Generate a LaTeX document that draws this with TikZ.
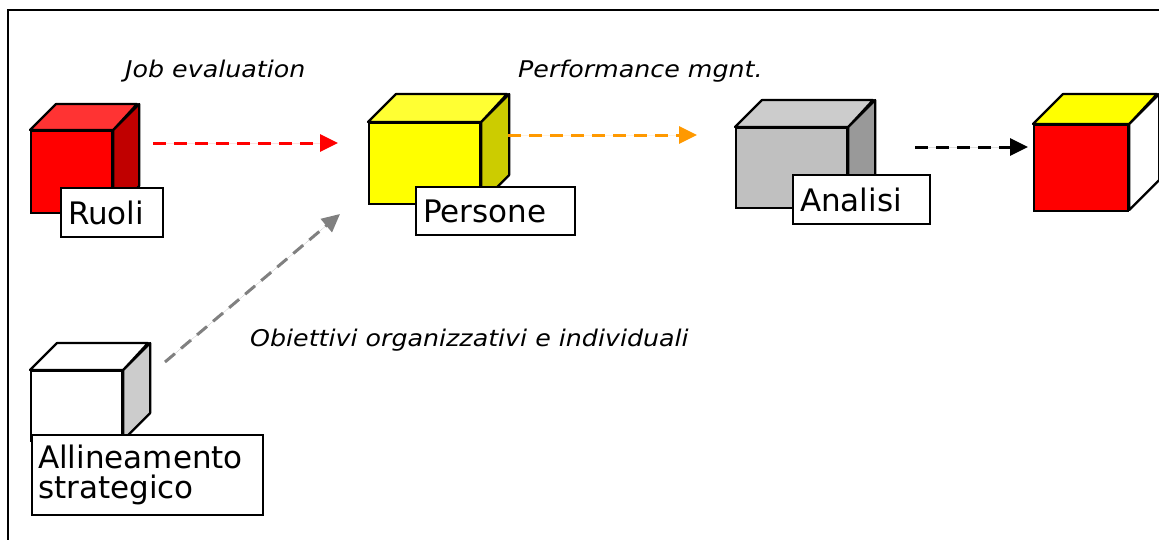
\documentclass[tikz,border=0pt]{standalone}
\usepackage{fontspec}
\setmainfont{DejaVu Sans}
\newfontfamily\itlab{DejaVu Sans}[FakeStretch=1.1]
\usetikzlibrary{arrows.meta}
\definecolor{cred}{HTML}{FF0000}
\definecolor{credtop}{HTML}{FF3333}
\definecolor{credside}{HTML}{C00000}
\definecolor{cyel}{HTML}{FFFF00}
\definecolor{cyeltop}{HTML}{FFFF33}
\definecolor{cyelside}{HTML}{CCCC00}
\definecolor{cgray}{HTML}{C0C0C0}
\definecolor{cgraytop}{HTML}{CCCCCC}
\definecolor{cgrayside}{HTML}{999999}
\definecolor{cwside}{HTML}{CCCCCC}
\definecolor{corange}{HTML}{FF9900}
\definecolor{cdgray}{HTML}{808080}
% #1 name, #2 x, #3 y, #4 w, #5 h, #6 d, #7 front, #8 top, #9 side
\newcommand{\mycube}[9]{%
  \node[cubeface, fill=#7, minimum width=#4pt, minimum height=#5pt, anchor=north west] (#1) at (#2,#3) {};
  \draw[cubeline, fill=#8] (#1.north west) -- ++(#6,-#6) -- ++(#4,0) -- (#1.north east) -- cycle;
  \draw[cubeline, fill=#9] (#1.north east) -- ++(#6,-#6) -- ++(0,#5) -- ++(-#6,#6) -- cycle;
}
\tikzset{
  cubeline/.style={line width=2.2pt, line join=round},
  cubeface/.style={draw, line width=2.2pt, inner sep=0pt, rectangle},
  lbl/.style={draw, fill=white, line width=2.2pt, rectangle, anchor=north west,
     inner xsep=7pt, inner ysep=0pt, align=left,
     font=\fontsize{31}{30}\selectfont},
  itl/.style={anchor=base west, inner sep=0pt, font=\itlab\itshape\fontsize{23}{25}\selectfont},
  flow/.style={line width=3pt, dash pattern=on 13pt off 8pt,
     -{Triangle[length=18pt,width=17pt]}},
}
\begin{document}
\begin{tikzpicture}[x=1pt,y=-1pt]
\useasboundingbox (0,0) rectangle (1159,539);
\clip (0,0) rectangle (1159,539);
% frame
\draw[line width=2.2pt] (8,560) -- (8,10) -- (1180,10);
% cubes
\mycube{ruolic}{30}{130}{81}{82}{26}{cred}{credtop}{credside}
\mycube{personec}{368}{122}{111}{81}{28}{cyel}{cyeltop}{cyelside}
\mycube{analisic}{735}{127}{111}{80}{27}{cgray}{cgraytop}{cgrayside}
\mycube{finalc}{1033}{124}{94}{86}{30}{cred}{cyel}{white}
\mycube{allinc}{30}{370}{91}{70}{27}{white}{white}{cwside}
% labels
\node[lbl, minimum width=102pt, minimum height=49pt, text width=88pt] (ruoli) at (60,187) {Ruoli};
\node[lbl, minimum width=159pt, minimum height=48pt, text width=145pt] (persone) at (415,186) {Persone};
\node[lbl, minimum width=137pt, minimum height=49pt, text width=123pt] (analisi) at (792,174) {Analisi};
\node[lbl, minimum width=231pt, minimum height=80pt, text width=219pt, inner xsep=5pt] (allin) at (31,434) {Allineamento\\strategico};
% italic texts
\node[itl] (jobev) at (125,77) {Job evaluation};
\node[itl] (perf) at (518,77) {Performance mgnt.};
\node[itl] (obiet) at (250,346) {Obiettivi organizzativi e individuali};
% arrow endpoints
\coordinate (a1s) at (153,143);
\coordinate (a1e) at (338,143);
\coordinate (a2s) at (508,135);
\coordinate (a2e) at (697,135);
\coordinate (a3s) at (915,147);
\coordinate (a3e) at (1028,147);
\coordinate (a4s) at (165,362);
\coordinate (a4e) at (340,214);
\draw[flow, draw=cred, fill=cred] (a1s) -- (a1e);
\draw[flow, draw=corange, fill=corange] (a2s) -- (a2e);
\draw[flow, draw=black, fill=black] (a3s) -- (a3e);
\draw[flow, draw=cdgray, fill=cdgray] (a4s) -- (a4e);
\end{tikzpicture}
\end{document}
